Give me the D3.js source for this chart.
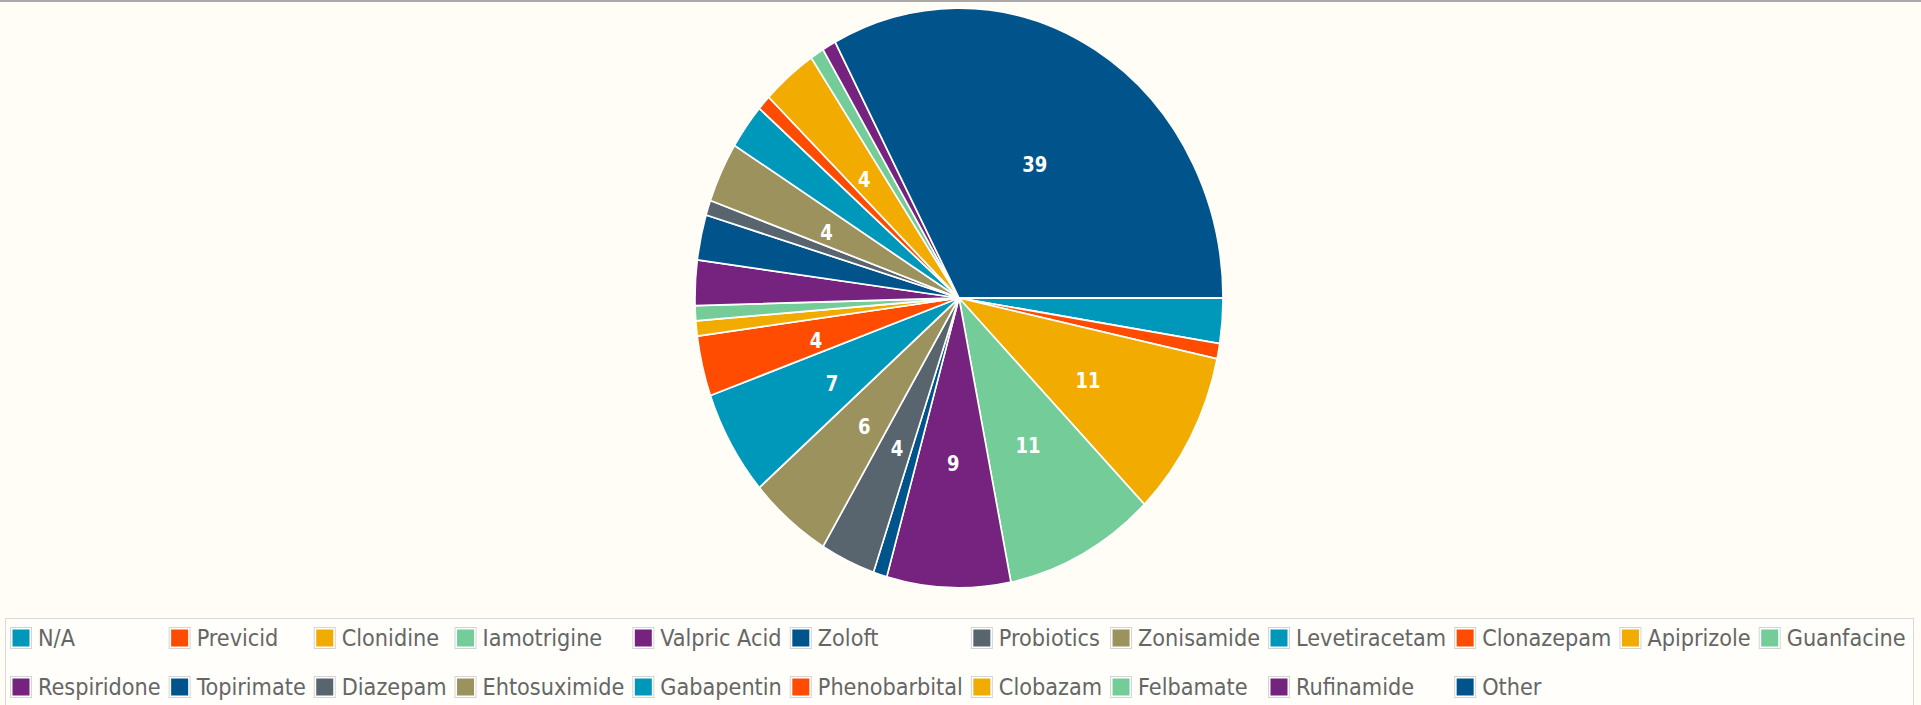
<!DOCTYPE html>
<html>
<head>
<meta charset="utf-8">
<script src="https://cdnjs.cloudflare.com/ajax/libs/d3/7.8.5/d3.min.js"></script>
<style>
body { margin: 0; background: #fffdf5; overflow: hidden; }
</style>
</head>
<body>
<script>
//Data
var drugs = ["N/A", "Previcid", "Clonidine", "Iamotrigine", "Valpric Acid", "Zoloft",
    "Probiotics", "Zonisamide", "Levetiracetam", "Clonazepam", "Apiprizole", "Guanfacine",
    "Respiridone", "Topirimate", "Diazepam", "Ehtosuximide", "Gabapentin", "Phenobarbital",
    "Clobazam", "Felbamate", "Rufinamide", "Other"];
var counts = [3, 1, 11, 11, 9, 1, 4, 6, 7, 4, 1, 1, 3, 3, 1, 4, 3, 1, 4, 1, 1, 39];
var palette = ["#0098ba", "#ff4c00", "#f2ab00", "#74cc99", "#76237f", "#00548c", "#58646e", "#9b925e"];

//SVG
var w = 1921;
var h = 705;
var background = "#fffdf5";

//Pie
var cx = 959;
var cy = 298;
var radius = 264;
var stretchY = 1.098;   // the pie is drawn a little taller than wide
var labelRadius = 147;
var minLabel = 4;
var sliceStroke = "white";
var fontFamily = "'DejaVu Sans Condensed', 'DejaVu Sans', sans-serif";

//Legend
var legendX = 10;
var legendRows = [638, 687];
var perRow = 12;
var swatch = 22;
var textGap = 28;
var colPad = 8;
var legendText = "#666666";

var color = d3.scaleOrdinal()
    .domain(drugs)
    .range(palette);

var svg = d3.select("body").append("svg")
    .attr("width", w)
    .attr("height", h)
    .style("display", "block")
    .style("font-stretch", "condensed");

svg.append("rect")
    .attr("width", w)
    .attr("height", h)
    .attr("fill", background);

//Grey line along the top
svg.append("rect")
    .attr("width", w)
    .attr("height", 2)
    .attr("fill", "#a9a9a9");

//Pie
var pie = d3.pie()
    .sort(null)
    .value(function (d) { return d.count; })
    .startAngle(Math.PI / 2)
    .endAngle(Math.PI / 2 + 2 * Math.PI);

var data = drugs.map(function (d, i) { return { name: d, count: counts[i] }; });
var arcs = pie(data);

var arc = d3.arc()
    .innerRadius(0)
    .outerRadius(radius);

var labelArc = d3.arc()
    .innerRadius(labelRadius)
    .outerRadius(labelRadius);

var g = svg.append("g")
    .attr("transform", "translate(" + cx + "," + cy + ") scale(1," + stretchY + ")");

g.selectAll("path.slice")
    .data(arcs)
    .enter().append("path")
    .attr("class", "slice")
    .attr("d", arc)
    .attr("fill", function (d) { return color(d.data.name); })
    .attr("stroke", sliceStroke)
    .attr("stroke-width", 1.6)
    .attr("stroke-linejoin", "round");

g.selectAll("text.value")
    .data(arcs.filter(function (d) { return d.data.count >= minLabel; }))
    .enter().append("text")
    .attr("class", "value")
    .attr("transform", function (d) { return "translate(" + labelArc.centroid(d) + ")"; })
    .attr("dy", "0.55em")
    .attr("text-anchor", "middle")
    .attr("fill", "white")
    .style("font-family", fontFamily)
    .style("font-weight", "bold")
    .style("font-size", "20px")
    .text(function (d) { return d.data.count; });

//Legend box
svg.append("rect")
    .attr("x", 5.5)
    .attr("y", 618.5)
    .attr("width", 1908)
    .attr("height", 120)
    .attr("fill", "#fffefa")
    .attr("stroke", "#d9d9d9");

var legend = svg.append("g");

var items = legend.selectAll("g.item")
    .data(drugs)
    .enter().append("g")
    .attr("class", "item");

items.append("rect")
    .attr("x", 0.5)
    .attr("y", -swatch / 2 + 0.5)
    .attr("width", swatch - 1)
    .attr("height", swatch - 1)
    .attr("fill", "white")
    .attr("stroke", "#d4d4d4");

items.append("rect")
    .attr("x", 2.5)
    .attr("y", -swatch / 2 + 2.5)
    .attr("width", swatch - 5)
    .attr("height", swatch - 5)
    .attr("fill", function (d) { return color(d); });

var labels = items.append("text")
    .attr("x", textGap)
    .attr("dy", "0.36em")
    .attr("fill", legendText)
    .style("font-family", fontFamily)
    .style("font-size", "23.2px")
    .text(function (d) { return d; });

//Lay the legend out as a grid: each column as wide as its widest entry
var widths = [];
labels.each(function () { widths.push(this.getComputedTextLength()); });

var colX = [legendX];
for (var c = 0; c < perRow; c++) {
    var wMax = 0;
    for (var r = 0; r * perRow + c < drugs.length; r++) {
        wMax = Math.max(wMax, widths[r * perRow + c]);
    }
    colX.push(colX[c] + textGap + wMax + colPad);
}

items.attr("transform", function (d, i) {
    return "translate(" + colX[i % perRow] + "," + legendRows[Math.floor(i / perRow)] + ")";
});
</script>
</body>
</html>
